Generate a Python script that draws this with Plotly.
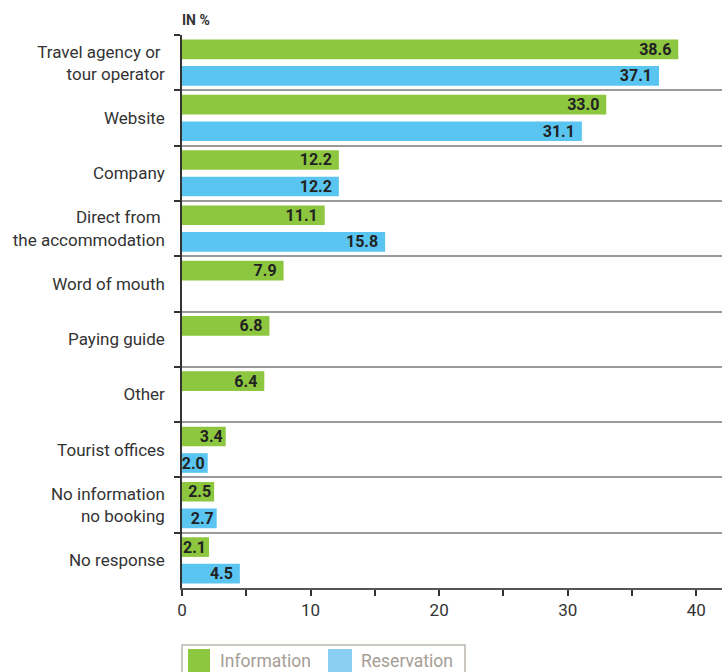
import plotly.graph_objects as go

categories = ["Travel agency or <br>tour operator", "Website", "Company",
              "Direct from <br>the accommodation", "Word of mouth", "Paying guide",
              "Other", "Tourist offices", "No information<br>no booking", "No response"]
information = [38.6, 33.0, 12.2, 11.1, 7.9, 6.8, 6.4, 3.4, 2.5, 2.1]
reservation = [37.1, 31.1, 12.2, 15.8, None, None, None, 2.0, 2.7, 4.5]
series_names = ["Information", "Reservation"]
x_tickvals = [0, 5, 10, 15, 20, 25, 30, 35, 40]
x_ticktext = ["0", "", "10", "", "20", "", "30", "", "40"]

GREEN = "#8dc63f"
BLUE = "#5bc5f2"
BLUE_LEG = "#8ad0f2"
FONT = "Roboto"

fig = go.Figure()
for name, vals, col in [(series_names[0], information, GREEN), (series_names[1], reservation, BLUE)]:
    templates = ["%{x:.1f}" if (v is not None and v < 4) else "%{x:.1f} " for v in vals]
    fig.add_trace(go.Bar(
        y=categories, x=vals, name=name, orientation="h", marker_color=col,
        marker_line_width=0,
        texttemplate=templates, textposition="inside", insidetextanchor="end",
        constraintext="none",
        textfont=dict(family=FONT, size=16, color="#222222", weight="bold"),
        cliponaxis=False, showlegend=False,
    ))

fig.update_layout(
    width=722, height=672,
    margin=dict(l=182, r=0, t=35, b=84),
    plot_bgcolor="white", paper_bgcolor="white",
    barmode="group", bargap=0.04, bargroupgap=0.26,
    font=dict(family=FONT, size=17, color="#333333"),
    xaxis=dict(range=[0, 42], tickvals=x_tickvals, ticktext=x_ticktext,
               ticks="outside", ticklen=6, tickcolor="#333333", tickwidth=1.5,
               showgrid=False, zeroline=False, showline=True, linecolor="#555555",
               linewidth=2, tickfont=dict(size=17, color="#333333")),
    yaxis=dict(autorange="reversed", tickson="boundaries", ticks="outside",
               ticklen=6, tickcolor="#333333", tickwidth=1.5,
               showgrid=True, gridcolor="#9a9a9a", gridwidth=1.5,
               showline=True, linecolor="#333333", linewidth=1.5,
               ticklabelstandoff=12, tickfont=dict(size=17, color="#333333")),
)

fig.add_annotation(text="<b>IN %</b>", xref="paper", yref="paper", x=-0.003, y=1.028,
                   xanchor="left", yanchor="middle", showarrow=False,
                   font=dict(family=FONT, size=14, color="#333333"))

def px_x(p):
    return (p - 182) / 540

def px_y(p):
    return (588 - p) / 553

# legend box
fig.add_shape(type="rect", xref="paper", yref="paper", x0=px_x(182), x1=px_x(465),
              y0=px_y(645), y1=px_y(680), line=dict(color="#bdb5ad", width=1.5),
              fillcolor="rgba(0,0,0,0)")
for i, (name, col, x0, x1, tx) in enumerate([
        (series_names[0], GREEN, 188, 210, 218),
        (series_names[1], BLUE_LEG, 328, 352, 359)]):
    fig.add_shape(type="rect", xref="paper", yref="paper", x0=px_x(x0), x1=px_x(x1),
                  y0=px_y(649), y1=px_y(680), line_width=0, fillcolor=col)
    fig.add_annotation(text=name, xref="paper", yref="paper", x=px_x(tx), y=px_y(661),
                       xanchor="left", yanchor="middle", showarrow=False,
                       font=dict(family=FONT, size=17.5, color="#a59d95"))

fig.write_html("out.html")
